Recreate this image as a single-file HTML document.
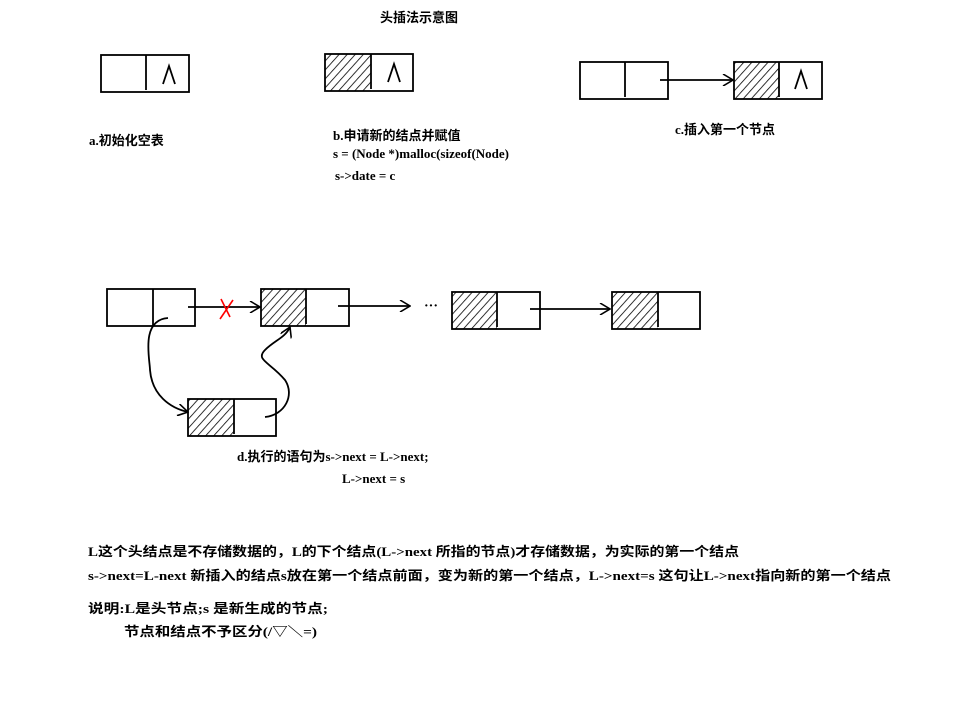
<!DOCTYPE html>
<html><head><meta charset="utf-8"><style>
html,body{margin:0;padding:0;background:#fff;}
svg{display:block;}
text{font-family:"Liberation Serif","Noto Sans CJK SC",sans-serif;font-weight:bold;font-size:13px;fill:#000;}
</style></head><body>
<svg width="970" height="705" viewBox="0 0 970 705" xmlns="http://www.w3.org/2000/svg">
<defs>
<pattern id="h" width="6" height="6" patternUnits="userSpaceOnUse" patternTransform="rotate(42)">
<line x1="0" y1="0" x2="0" y2="6" stroke="#000" stroke-width="1.6"/>
</pattern>
<marker id="a" markerWidth="12" markerHeight="12" refX="11" refY="6" orient="auto" markerUnits="userSpaceOnUse">
<path d="M1,0 L11,6 L1,12" fill="none" stroke="#000" stroke-width="1.6"/>
</marker>
</defs>
<g fill="none" stroke="#000" stroke-width="1.8">
<rect x="101" y="55" width="88" height="37"/><line x1="146" y1="55" x2="146" y2="90"/>
<rect x="325" y="54" width="46" height="37" fill="url(#h)" stroke="none"/>
<rect x="325" y="54" width="88" height="37"/><line x1="371" y1="54" x2="371" y2="89"/>
<rect x="580" y="62" width="88" height="37"/><line x1="625" y1="62" x2="625" y2="97"/>
<rect x="734" y="62" width="45" height="37" fill="url(#h)" stroke="none"/>
<rect x="734" y="62" width="88" height="37"/><line x1="779" y1="62" x2="779" y2="97"/>
<line x1="660" y1="80" x2="733" y2="80" marker-end="url(#a)"/>
<rect x="107" y="289" width="88" height="37"/><line x1="153" y1="289" x2="153" y2="326"/>
<rect x="261" y="289" width="45" height="37" fill="url(#h)" stroke="none"/>
<rect x="261" y="289" width="88" height="37"/><line x1="306" y1="289" x2="306" y2="324"/>
<rect x="452" y="292" width="45" height="37" fill="url(#h)" stroke="none"/>
<rect x="452" y="292" width="88" height="37"/><line x1="497" y1="292" x2="497" y2="327"/>
<rect x="612" y="292" width="46" height="37" fill="url(#h)" stroke="none"/>
<rect x="612" y="292" width="88" height="37"/><line x1="658" y1="292" x2="658" y2="327"/>
<rect x="188" y="399" width="46" height="37" fill="url(#h)" stroke="none"/>
<rect x="188" y="399" width="88" height="37"/><line x1="234" y1="399" x2="234" y2="434"/>
<line x1="188" y1="307" x2="260" y2="307" marker-end="url(#a)"/>
<line x1="338" y1="306" x2="410" y2="306" marker-end="url(#a)"/>
<line x1="530" y1="309" x2="610" y2="309" marker-end="url(#a)"/>
<path d="M168,318 C140,320 150,360 150,370 C152,395 170,408 188,412" marker-end="url(#a)"/>
<path d="M265,417 C285,415 295,395 285,380 C270,362 255,360 265,350 C275,340 285,338 290,327" marker-end="url(#a)"/>
<path d="M163,84 L169,66 L175,84"/>
<path d="M388,82 L394,64 L400,82"/>
<path d="M795,89 L801,71 L807,89"/>
</g>
<g stroke="#f00" stroke-width="1.6"><line x1="221" y1="299" x2="230" y2="317"/><line x1="233" y1="300" x2="220" y2="319"/></g>
<text x="424" y="310" style="font-size:14px">···</text>
<text x="380" y="22">头插法示意图</text>
<text x="89" y="145">a.初始化空表</text>
<text x="333" y="140">b.申请新的结点并赋值</text>
<text x="333" y="158">s = (Node *)malloc(sizeof(Node)</text>
<text x="335" y="180">s-&gt;date = c</text>
<text x="675" y="134">c.插入第一个节点</text>
<text x="237" y="461">d.执行的语句为s-&gt;next = L-&gt;next;</text>
<text x="342" y="483">L-&gt;next = s</text>
<text x="88" y="556" textLength="651" lengthAdjust="spacingAndGlyphs">L这个头结点是不存储数据的，L的下个结点(L-&gt;next 所指的节点)才存储数据，为实际的第一个结点</text>
<text x="88" y="580" textLength="803" lengthAdjust="spacingAndGlyphs">s-&gt;next=L-next 新插入的结点s放在第一个结点前面，变为新的第一个结点，L-&gt;next=s 这句让L-&gt;next指向新的第一个结点</text>
<text x="88" y="613" textLength="240" lengthAdjust="spacingAndGlyphs">说明:L是头节点;s 是新生成的节点;</text>
<text x="124" y="636" textLength="193" lengthAdjust="spacingAndGlyphs">节点和结点不予区分(/▽＼=)</text>
</svg>
</body></html>
